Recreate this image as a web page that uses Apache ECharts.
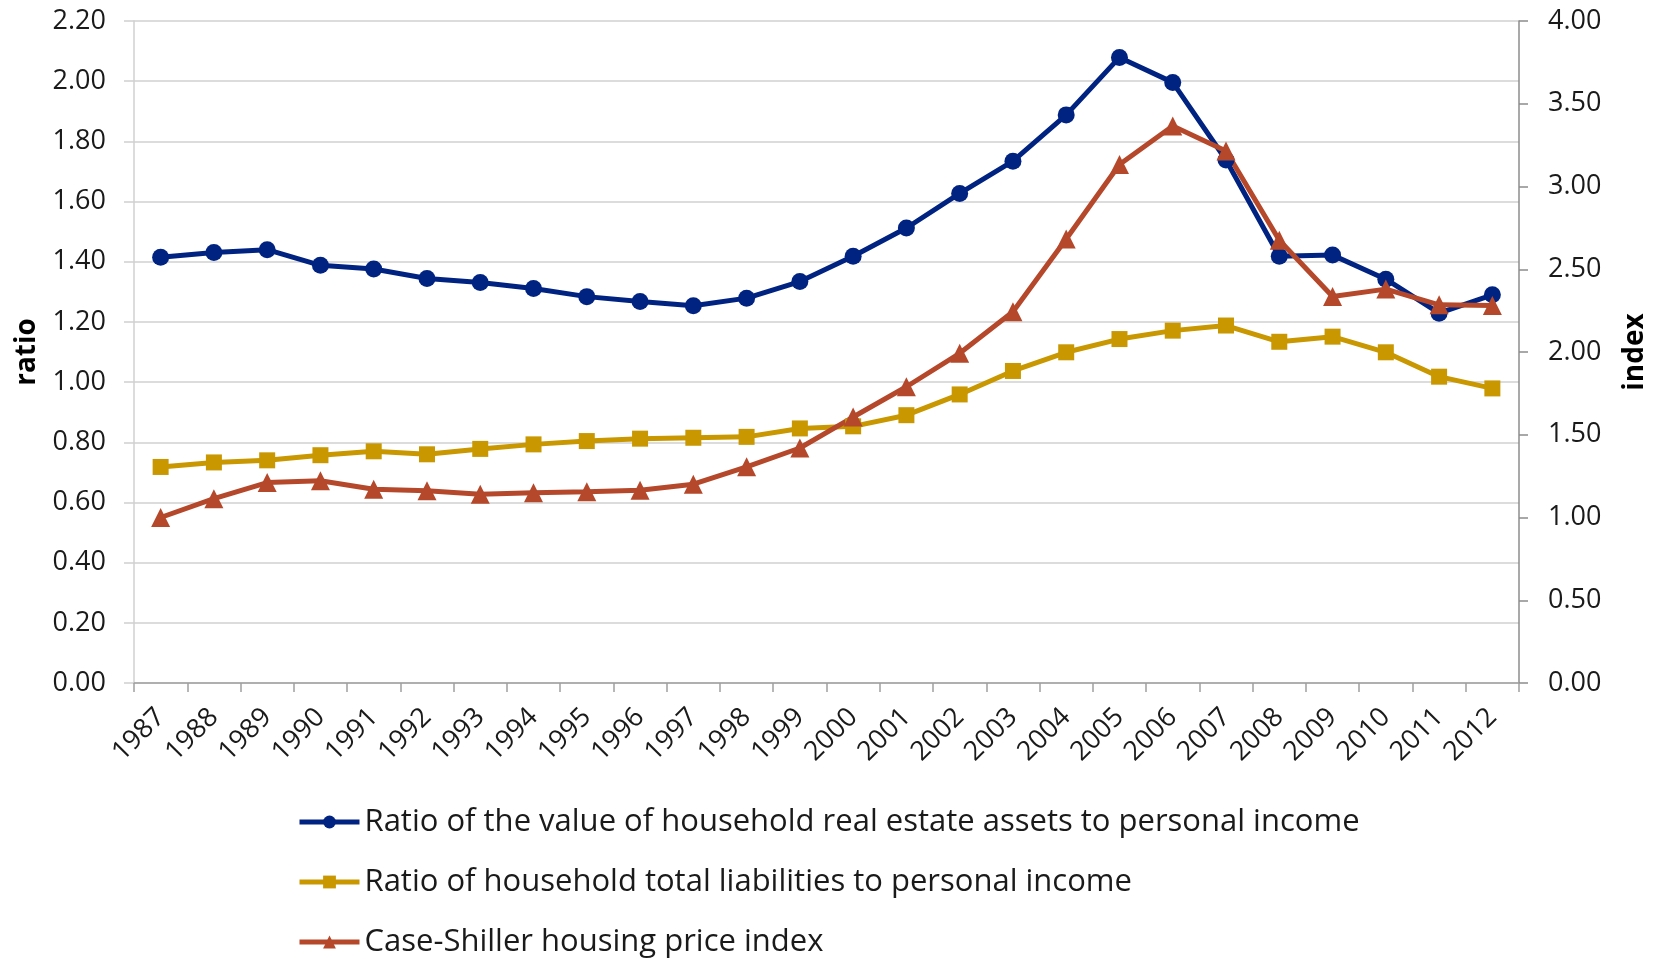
<!DOCTYPE html>
<html>
<head>
<meta charset="utf-8">
<script src="https://cdn.jsdelivr.net/npm/echarts@6/dist/echarts.min.js"></script>
<style>
html,body{margin:0;padding:0;background:#fff;}
#chart{width:1657px;height:959px;}
</style>
</head>
<body>
<div id="chart"></div>
<script>
const years = ['1987','1988','1989','1990','1991','1992','1993','1994','1995','1996','1997','1998','1999','2000','2001','2002','2003','2004','2005','2006','2007','2008','2009','2010','2011','2012'];
const realEstateRatio = [1.415,1.431,1.440,1.388,1.376,1.344,1.331,1.311,1.284,1.268,1.254,1.279,1.334,1.418,1.512,1.627,1.734,1.888,2.079,1.996,1.738,1.418,1.422,1.342,1.229,1.290];
const liabilitiesRatio = [0.718,0.733,0.740,0.757,0.770,0.760,0.778,0.793,0.804,0.812,0.815,0.818,0.846,0.853,0.890,0.959,1.037,1.099,1.143,1.171,1.188,1.134,1.151,1.099,1.018,0.979];
const caseShiller = [1.000,1.114,1.211,1.222,1.171,1.161,1.141,1.149,1.155,1.165,1.201,1.306,1.420,1.607,1.790,1.992,2.243,2.683,3.133,3.365,3.214,2.675,2.335,2.380,2.285,2.281];
const seriesNames = ['Ratio of the value of household real estate assets to personal income','Ratio of household total liabilities to personal income','Case-Shiller housing price index'];
const seriesColors = ['#002382','#c99700','#b5482b'];

const FONT = 'Open Sans';
const chart = echarts.init(document.getElementById('chart'));
chart.setOption({
  animation: false,
  textStyle: {fontFamily: FONT},
  grid: {left: 134, right: 137, top: 21, bottom: 276},
  legend: {
    orient: 'vertical', left: 292, top: 800, height: 200, itemGap: 26,
    itemWidth: 60, itemHeight: 16,
    lineStyle: {width: 5},
    textStyle: {fontFamily: FONT, fontSize: 31, color: '#1a1a1a', lineHeight: 34},
    data: seriesNames
  },
  xAxis: {
    type: 'category', data: years, boundaryGap: true,
    axisLine: {lineStyle: {color: '#a0a0a0', width: 1.5}},
    axisTick: {show: true, length: 9, lineStyle: {color: '#a0a0a0', width: 1.5}},
    axisLabel: {rotate: 45, fontSize: 27, color: '#1a1a1a', margin: 30, interval: 0, fontFamily: FONT}
  },
  yAxis: [{
    type: 'value', min: 0, max: 2.2, interval: 0.2, position: 'left',
    name: 'ratio', nameLocation: 'middle', nameGap: 93, nameRotate: 90,
    nameTextStyle: {fontSize: 28, fontWeight: 'bold', color: '#000', fontFamily: FONT},
    axisLine: {show: true, lineStyle: {color: '#d0d0d0', width: 1.5}},
    axisTick: {show: true, length: 10, lineStyle: {color: '#d0d0d0', width: 1.5}},
    axisLabel: {fontSize: 27, color: '#1a1a1a', margin: 28, formatter: v => v.toFixed(2), fontFamily: FONT},
    splitLine: {lineStyle: {color: '#d0d0d0', width: 1.5}}
  }, {
    type: 'value', min: 0, max: 4, interval: 0.5, position: 'right',
    name: 'index', nameLocation: 'middle', nameGap: 102, nameRotate: 90,
    nameTextStyle: {fontSize: 28, fontWeight: 'bold', color: '#000', fontFamily: FONT},
    axisLine: {show: true, lineStyle: {color: '#8c8c8c', width: 1.5}},
    axisTick: {show: true, length: 9, lineStyle: {color: '#8c8c8c', width: 1.5}},
    axisLabel: {fontSize: 27, color: '#1a1a1a', margin: 29, formatter: v => v.toFixed(2), fontFamily: FONT},
    splitLine: {show: false}
  }],
  series: [{
    name: seriesNames[0], type: 'line', yAxisIndex: 0, data: realEstateRatio,
    symbol: 'circle', symbolSize: 17,
    lineStyle: {color: seriesColors[0], width: 5}, itemStyle: {color: seriesColors[0]}
  }, {
    name: seriesNames[1], type: 'line', yAxisIndex: 0, data: liabilitiesRatio,
    symbol: 'rect', symbolSize: 16,
    lineStyle: {color: seriesColors[1], width: 5}, itemStyle: {color: seriesColors[1]}
  }, {
    name: seriesNames[2], type: 'line', yAxisIndex: 1, data: caseShiller,
    symbol: 'triangle', symbolSize: 19,
    lineStyle: {color: seriesColors[2], width: 5}, itemStyle: {color: seriesColors[2]}
  }]
});
</script>
</body>
</html>
